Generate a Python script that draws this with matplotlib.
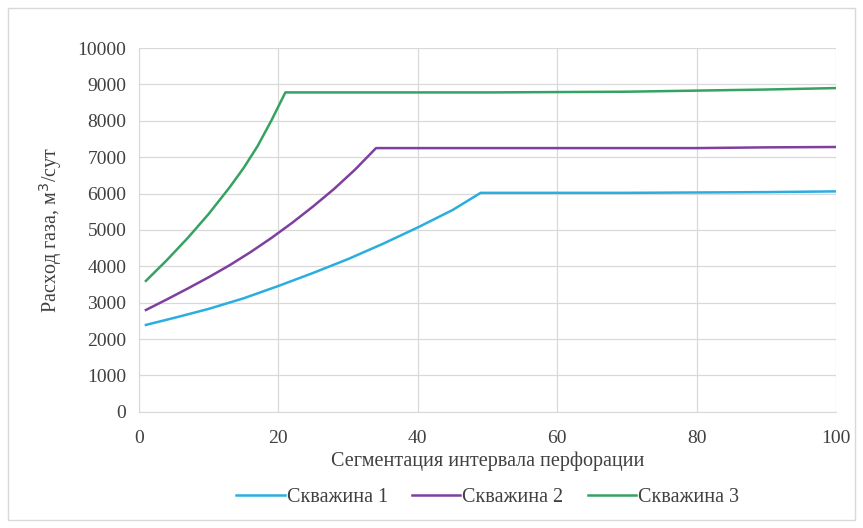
import matplotlib.pyplot as plt
from matplotlib.patches import Rectangle

plt.rcParams['font.family'] = ['Liberation Serif', 'DejaVu Serif']

# расход газа по скважинам в зависимости от сегментации
x1 = [1, 5, 10, 15, 20, 25, 30, 35, 40, 45, 49, 60, 70, 80, 90, 100]
y1 = [2390, 2580, 2830, 3120, 3460, 3820, 4200, 4620, 5070, 5550, 6020,
      6020, 6020, 6030, 6040, 6060]

x2 = [1, 4, 7, 10, 13, 16, 19, 22, 25, 28, 31, 34, 50, 60, 70, 80, 90, 100]
y2 = [2800, 3090, 3390, 3700, 4030, 4390, 4780, 5200, 5650, 6130, 6660, 7250,
      7250, 7250, 7250, 7250, 7270, 7280]

x3 = [1, 4, 7, 10, 13, 15, 17, 19, 21, 40, 50, 60, 70, 80, 90, 100]
y3 = [3600, 4170, 4780, 5440, 6170, 6700, 7300, 8010, 8780, 8780, 8780, 8790, 8800,
      8830, 8860, 8900]

names = ['Скважина 1', 'Скважина 2', 'Скважина 3']
colors = ['#2aaee0', '#7e3f9f', '#35a262']

fig = plt.figure(figsize=(8.63, 5.28), dpi=100)
fig.patches.append(Rectangle((0.009, 0.015), 0.982, 0.97, transform=fig.transFigure,
                             fill=False, edgecolor='#d9d9d9', lw=1))
ax = fig.add_axes([0.161, 0.220, 0.808, 0.689])

for xs, ys, n, c in zip([x1, x2, x3], [y1, y2, y3], names, colors):
    ax.plot(xs, ys, color=c, lw=1.8, label=n, solid_joinstyle='round')

ax.set_xlim(0, 100)
ax.set_ylim(0, 10000)
ax.set_xticks(range(0, 101, 20))
ax.set_yticks(range(0, 10001, 1000))
ax.grid(True, color='#d9d9d9', lw=0.9)
ax.set_axisbelow(True)
for s in ['top', 'right']:
    ax.spines[s].set_visible(False)
for s in ['left', 'bottom']:
    ax.spines[s].set_color('#d9d9d9')
ax.tick_params(length=0, labelsize=14, colors='#404040')
ax.tick_params(axis='x', pad=13)
ax.tick_params(axis='y', pad=9)

ax.set_xlabel('Сегментация интервала перфорации', fontsize=14.5, color='#404040', labelpad=3)
ax.set_ylabel('Расход газа, м$^3$/сут', fontsize=14.5, color='#404040', labelpad=10)

ax.legend(loc='upper center', bbox_to_anchor=(0.5, -0.16), ncol=3, frameon=False,
          fontsize=14.5, handlelength=2.4, handletextpad=0.1, columnspacing=1.2,
          labelcolor='#404040')

plt.savefig('out.png', dpi=100)
plt.close()
